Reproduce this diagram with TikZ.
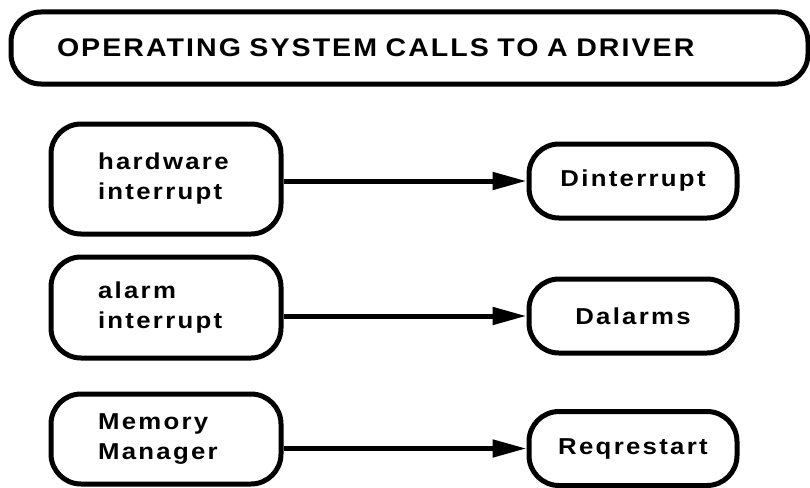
\documentclass[tikz,border=0pt]{standalone}
\usepackage{fontspec}
\setmainfont{Liberation Sans}
\newfontfamily\spacedfont[FakeStretch=1.12, LetterSpace=10]{Liberation Sans}
\newfontfamily\titlefont[FakeStretch=1.12, LetterSpace=8]{Liberation Sans}
\usetikzlibrary{arrows.meta}
\tikzstyle{arrow} = [line width=5pt, -{Triangle[length=34pt,width=17pt]}]

\begin{document}
\begin{tikzpicture}[
  x=1pt, y=-1pt,
  every node/.style={font=\spacedfont\bfseries\fontsize{23}{30}\selectfont},
  banner/.style={draw, line width=5pt, rounded corners=30pt, minimum width=797pt, minimum height=72pt, text width=705pt, align=left, inner sep=0pt, font=\titlefont\bfseries\fontsize{25.5}{30}\selectfont},
  source/.style={draw, line width=5pt, rounded corners=30pt, minimum width=230pt, text width=136pt, align=left, inner sep=0pt},
  driver/.style={draw, line width=5pt, rounded corners=30pt, minimum width=208pt, minimum height=74pt, inner sep=0pt}
]
\useasboundingbox (0,0) rectangle (810,487);

% Heading
\node[banner] (title) at (409.5,48) {OPERATING SYSTEM CALLS TO A DRIVER};

% Callers
\node[source, minimum height=110pt] (hw)    at (166,179)   {hardware\\interrupt};
\node[source, minimum height=101pt] (alarm) at (166,307.5) {alarm\\interrupt};
\node[source, minimum height=90pt]  (mem)   at (166,439)   {Memory\\Manager};

% Driver entry points
\node[driver] (dint)    at (633,181)   {Dinterrupt};
\node[driver] (dalarms) at (633,316)   {Dalarms};
\node[driver] (dreq)    at (633,448.5) {Reqrestart};

% Calls
\draw[arrow] (hw.east |- dint)       -- (dint.west);
\draw[arrow] (alarm.east |- dalarms) -- (dalarms.west);
\draw[arrow] (mem.east |- dreq)      -- (dreq.west);
\end{tikzpicture}
\end{document}
